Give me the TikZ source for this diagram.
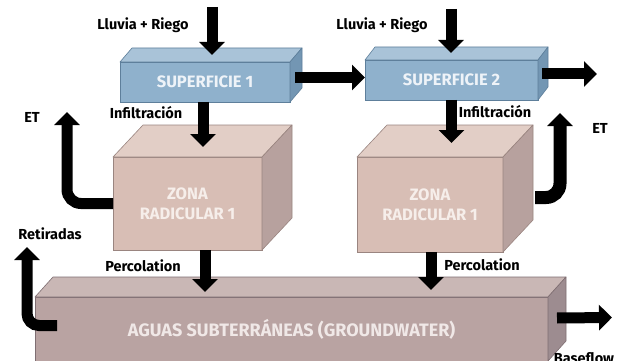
\documentclass[tikz,border=0pt]{standalone}
\usepackage{fontspec}
\setmainfont{Fira Sans}
\usetikzlibrary{arrows.meta,calc}
\definecolor{supF}{HTML}{8FB1CC}
\definecolor{supT}{HTML}{A9C3D8}
\definecolor{supS}{HTML}{7396B3}
\definecolor{supL}{HTML}{5E7F9B}
\definecolor{supX}{HTML}{EEF3F8}
\definecolor{zonF}{HTML}{D8BEB5}
\definecolor{zonT}{HTML}{E2CEC6}
\definecolor{zonS}{HTML}{B7A19E}
\definecolor{zonL}{HTML}{9A8580}
\definecolor{zonX}{HTML}{F6EEEA}
\definecolor{aguF}{HTML}{B9A3A2}
\definecolor{aguT}{HTML}{C9B7B5}
\definecolor{aguS}{HTML}{9D8C90}
\definecolor{aguL}{HTML}{7F6E72}
\definecolor{aguX}{HTML}{F0E8E7}
% #1 name, #2 top-left, #3 width, #4 height, #5 depth, #6 colour prefix, #7 text, #8 font size
\newcommand\caja[8]{%
  \node[draw=#6L, fill=#6F, line width=0.6pt, minimum width=#3pt, minimum height=#4pt,
        inner sep=0pt, outer sep=0pt, anchor=north west, text=#6X, align=center,
        font=\fontsize{#8}{20}\selectfont\bfseries] (#1) at (#2) {#7};
  \filldraw[fill=#6T, draw=#6L, line width=0.6pt, line join=round] (#1.north west) -- ++(#5) -- ($(#1.north east)+(#5)$) -- (#1.north east) -- cycle;
  \filldraw[fill=#6S, draw=#6L, line width=0.6pt, line join=round] (#1.north east) -- ++(#5) -- ($(#1.south east)+(#5)$) -- (#1.south east) -- cycle;
}
\tikzset{
  flecha/.style={line width=11pt, -{Triangle[width=25pt,length=13pt]}},
  etiqueta/.style={font=\fontsize{14.5}{16}\selectfont\bfseries, inner sep=0pt}
}
\begin{document}
\begin{tikzpicture}[x=1pt,y=-1pt]
\useasboundingbox (0,0) rectangle (627,361);
\fill[white] (0,0) rectangle (627,361);

\caja{sup1}{120,62}{170}{40}{12,-14}{sup}{SUPERFICIE 1}{16.5}
\caja{sup2}{365,60}{173}{40}{10,-13}{sup}{SUPERFICIE 2}{16.5}
\caja{zona1}{113,157}{149}{93}{30,-32}{zon}{ZONA\\RADICULAR 1}{16.5}
\caja{zona2}{357,157}{146}{95}{30,-32}{zon}{ZONA\\RADICULAR 1}{16.5}
\caja{agua}{35,297}{513}{64}{18,-20}{agu}{AGUAS SUBTERRÁNEAS (GROUNDWATER)}{18}

\coordinate (ll1) at (212,7);
\coordinate (ll2) at (451,9);
\coordinate (out2) at (597,74);
\coordinate (et1) at (67,112);
\coordinate (et2) at (560,113);
\coordinate (ret) at (27,247);
\coordinate (base) at (612,317.5);

\draw[flecha, shorten >=7pt] (ll1) -- (ll1 |- sup1.north);
\draw[flecha, shorten >=7pt] (ll2) -- (ll2 |- sup2.north);
\draw[flecha] ($(sup1.east)+(5,-4.5)$) -- ($(sup2.west)+(0,-2.5)$);
\draw[flecha] ($(sup2.east)+(4,-6)$) -- (out2);
\draw[flecha] ($(sup1.south)+(-2,0)$) -- ($(zona1.north)+(15.5,-10)$);
\draw[flecha] (sup2.south) -- ($(zona2.north)+(21.5,-14)$);
\draw[flecha] ($(zona1.south)+(17.5,0)$) -- ($(agua.north)+(-86.5,-5)$);
\draw[flecha] ($(zona2.south)+(1,0)$) -- ($(agua.north)+(139.5,-7)$);
\draw[flecha, rounded corners=14pt] (zona1.west) -| (et1);
\draw[flecha, line width=13pt, rounded corners=14pt] ($(zona2.east)+(32,-7)$) -| (et2);
\draw[flecha, rounded corners=12pt] ($(agua.west)+(22,-3.5)$) -| (ret);
\draw[flecha] ($(agua.east)+(9,-11)$) -- (base);

\node[etiqueta] (tll1) at (143,25) {Lluvia + Riego};
\node[etiqueta] (tll2) at (382,25) {Lluvia + Riego};
\node[etiqueta] (tinf1) at (146,113) {Infiltración};
\node[etiqueta] (tinf2) at (495,112) {Infiltración};
\node[etiqueta] (tet1) at (32,117) {ET};
\node[etiqueta] (tet2) at (600,128) {ET};
\node[etiqueta] (tret) at (50,234) {Retiradas};
\node[etiqueta] (tper1) at (143,266) {Percolation};
\node[etiqueta] (tper2) at (482,265) {Percolation};
\node[etiqueta, anchor=north] (tbase) at (584,352) {Baseflow};
\end{tikzpicture}
\end{document}
